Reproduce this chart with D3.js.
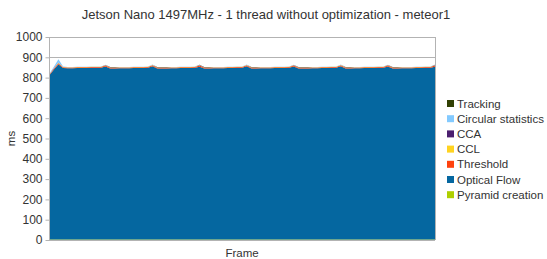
<!DOCTYPE html>
<html>
<head>
<meta charset="utf-8">
<script src="https://cdn.jsdelivr.net/npm/d3@7"></script>
<style>
body { margin: 0; background: #fff; }
text { font-family: "Liberation Sans", Arial, sans-serif; }
</style>
</head>
<body>
<div id="chart"></div>
<script>
var seriesNames = ["Pyramid creation", "Optical Flow", "Threshold", "CCL", "CCA", "Circular statistics", "Tracking"];
var colors = ["#aecf00", "#0567a0", "#ff420e", "#ffd320", "#4b1f6f", "#83caff", "#314004"];
var yTicks = [0, 100, 200, 300, 400, 500, 600, 700, 800, 900, 1000];

/****** values per frame (ms) ******/
var pyramid = [3,3,3,3,3,3,3,3,3,3,3,3,3,3,3,3,3,3,3,3,3,3,3,3,3,3,3,3,3,3,3,3,3,3,3,3,3,3,3,3,3,3,3,3,3,3,3,3,3,3,3,3,3,3,3,3,3,3,3,3,3,3,3,3,3,3,3,3,3,3,3,3,3,3,3,3,3,3,3,3,3,3,3];
var opticalFlow = [806,836,863,
    844,843,843,844,844,844,845,845,845, 852,
    842,842,843,843,843,844,844,844,845, 853,
    842,842,842,843,843,844,844,844,845, 851,
    842,842,843,843,843,844,844,845,845, 853,
    842,842,843,843,843,844,844,844,845, 852,
    842,842,842,843,843,844,844,845,845, 853,
    842,842,843,843,844,844,844,845,845, 852,
    842,842,843,843,843,844,844,845,845, 851];
var threshold = [4,4,5,4,4,4,4,4,4,4,4,4,5,4,4,4,4,4,4,4,4,4,5,4,4,4,4,4,4,4,4,4,5,4,4,4,4,4,4,4,4,4,5,4,4,4,4,4,4,4,4,4,5,4,4,4,4,4,4,4,4,4,5,4,4,4,4,4,4,4,4,4,5,4,4,4,4,4,4,4,4,4,5];
var ccl = [1,1,2,1,1,1,1,1,1,1,1,1,1,1,1,1,1,1,1,1,1,1,1,1,1,1,1,1,1,1,1,1,1,1,1,1,1,1,1,1,1,1,1,1,1,1,1,1,1,1,1,1,1,1,1,1,1,1,1,1,1,1,1,1,1,1,1,1,1,1,1,1,1,1,1,1,1,1,1,1,1,1,1];
var cca = [0.5,0.5,1,0.5,0.5,0.5,0.5,0.5,0.5,0.5,0.5,0.5,0.5,0.5,0.5,0.5,0.5,0.5,0.5,0.5,0.5,0.5,0.5,0.5,0.5,0.5,0.5,0.5,0.5,0.5,0.5,0.5,0.5,0.5,0.5,0.5,0.5,0.5,0.5,0.5,0.5,0.5,0.5,0.5,0.5,0.5,0.5,0.5,0.5,0.5,0.5,0.5,0.5,0.5,0.5,0.5,0.5,0.5,0.5,0.5,0.5,0.5,0.5,0.5,0.5,0.5,0.5,0.5,0.5,0.5,0.5,0.5,0.5,0.5,0.5,0.5,0.5,0.5,0.5,0.5,0.5,0.5,0.5];
var circular = [2,8,16,2,1,1,1,1,1,1,1,1,2,1,1,1,1,1,1,1,1,1,2,1,1,1,1,1,1,1,1,1,2,1,1,1,1,1,1,1,1,1,2,1,1,1,1,1,1,1,1,1,2,1,1,1,1,1,1,1,1,1,2,1,1,1,1,1,1,1,1,1,2,1,1,1,1,1,1,1,1,1,2];
var tracking = [0.3,0.3,0.5,0.3,0.3,0.3,0.3,0.3,0.3,0.3,0.3,0.3,0.3,0.3,0.3,0.3,0.3,0.3,0.3,0.3,0.3,0.3,0.3,0.3,0.3,0.3,0.3,0.3,0.3,0.3,0.3,0.3,0.3,0.3,0.3,0.3,0.3,0.3,0.3,0.3,0.3,0.3,0.3,0.3,0.3,0.3,0.3,0.3,0.3,0.3,0.3,0.3,0.3,0.3,0.3,0.3,0.3,0.3,0.3,0.3,0.3,0.3,0.3,0.3,0.3,0.3,0.3,0.3,0.3,0.3,0.3,0.3,0.3,0.3,0.3,0.3,0.3,0.3,0.3,0.3,0.3,0.3,0.3];

var series = [pyramid, opticalFlow, threshold, ccl, cca, circular, tracking];
var table = opticalFlow.map(function (d, i) {
    var row = {frame: i};
    seriesNames.forEach(function (n, k) { row[n] = series[k][i]; });
    return row;
});

var width = 547, height = 259;
var plotLeft = 49, plotRight = 435, plotTop = 37, plotBottom = 240;

var x = d3.scaleLinear().domain([0, opticalFlow.length - 1]).range([plotLeft, plotRight]);
var y = d3.scaleLinear().domain([0, 1000]).range([plotBottom, plotTop]);

var svg = d3.select("#chart").append("svg")
    .attr("width", width)
    .attr("height", height);

// title
svg.append("text")
    .attr("x", 266).attr("y", 19)
    .attr("text-anchor", "middle")
    .style("font-size", "13px")
    .style("fill", "#333")
    .text("Jetson Nano 1497MHz - 1 thread without optimization - meteor1");

// grid
svg.append("g").selectAll("line")
    .data(yTicks)
    .enter().append("line")
    .attr("x1", plotLeft).attr("x2", plotRight)
    .attr("y1", function (d) { return Math.round(y(d)) + 0.5; })
    .attr("y2", function (d) { return Math.round(y(d)) + 0.5; })
    .style("stroke", "#b3b3b3");

svg.append("line")
    .attr("x1", plotRight + 0.5).attr("x2", plotRight + 0.5)
    .attr("y1", plotTop).attr("y2", plotBottom)
    .style("stroke", "#b3b3b3");

// stacked areas
var stack = d3.stack().keys(seriesNames);
var layers = stack(table);
var area = d3.area()
    .x(function (d) { return x(d.data.frame); })
    .y0(function (d) { return y(d[0]); })
    .y1(function (d) { return y(d[1]); });

svg.append("g").selectAll("path")
    .data(layers)
    .enter().append("path")
    .attr("d", area)
    .style("fill", function (d, i) { return colors[i]; });

// y axis
var yAxis = d3.axisLeft(y).tickValues(yTicks).tickFormat(d3.format("d")).tickSize(4).tickPadding(3);
var ga = svg.append("g")
    .attr("transform", "translate(" + (plotLeft + 0.5) + ",0)")
    .call(yAxis);
ga.selectAll("line, path").style("stroke", "#b3b3b3");
ga.select(".domain").attr("d", "M0," + plotTop + "V" + plotBottom);
ga.selectAll("text")
    .style("font-family", "Liberation Sans, Arial, sans-serif")
    .style("font-size", "12px")
    .style("fill", "#333");

svg.append("line")
    .attr("x1", plotLeft).attr("x2", plotRight)
    .attr("y1", plotBottom + 0.5).attr("y2", plotBottom + 0.5)
    .style("stroke", "#b3b3b3");

// axis titles
svg.append("text")
    .attr("transform", "translate(15," + ((plotTop + plotBottom) / 2) + ") rotate(-90)")
    .attr("text-anchor", "middle")
    .style("font-size", "11.5px")
    .style("fill", "#333")
    .text("ms");

svg.append("text")
    .attr("x", (plotLeft + plotRight) / 2).attr("y", 257)
    .attr("text-anchor", "middle")
    .style("font-size", "11.5px")
    .style("fill", "#333")
    .text("Frame");

// legend (top of stack first)
var legend = svg.append("g").selectAll("g")
    .data(seriesNames.slice().reverse())
    .enter().append("g")
    .attr("transform", function (d, i) { return "translate(447," + (100 + i * 15.2) + ")"; });
legend.append("rect")
    .attr("width", 7).attr("height", 7)
    .style("fill", function (d) { return colors[seriesNames.indexOf(d)]; });
legend.append("text")
    .attr("x", 10).attr("y", 7.5)
    .style("font-size", "11.5px")
    .style("fill", "#333")
    .text(function (d) { return d; });
</script>
</body>
</html>
